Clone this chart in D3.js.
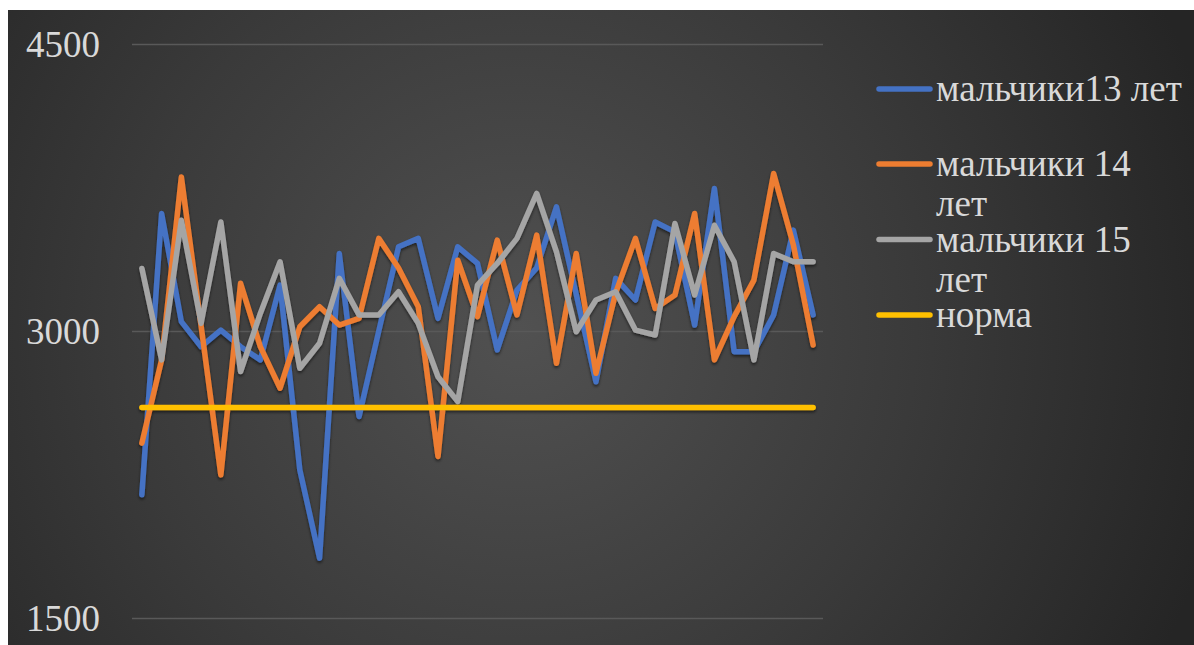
<!DOCTYPE html>
<html>
<head>
<meta charset="utf-8">
<script src="https://cdn.jsdelivr.net/npm/d3@7/dist/d3.min.js"></script>
<style>
  html, body { margin: 0; padding: 0; background: #ffffff; }
  svg { display: block; }
  .serif { font-family: "Liberation Serif", "Times New Roman", serif; }
</style>
</head>
<body>
<svg id="chart" width="1194" height="645"></svg>
<script>
// Measurement index (one point per pupil record)
const categories = d3.range(1, 36);

// Series values
const boys13 = [2144, 3614, 3049, 2918, 3005, 2918, 2849, 3240, 2274, 1813,
                3405, 2553, 3000, 3440, 3484, 3066, 3440, 3353, 2901, 3214,
                3330, 3649, 3192, 2735, 3275, 3162, 3570, 3518, 3031, 3745,
                2892, 2892, 3084, 3527, 3084];
const boys14 = [2414, 2849, 3805, 3027, 2248, 3249, 2918, 2701, 3022, 3127,
                3031, 3066, 3484, 3329, 3127, 2344, 3370, 3075, 3475, 3084,
                3501, 2831, 3405, 2779, 3200, 3484, 3118, 3188, 3614, 2849,
                3075, 3266, 3823, 3450, 2927];
const boys15 = [3327, 2849, 3579, 3040, 3570, 2788, 3092, 3362, 2805, 2936,
                3275, 3084, 3084, 3205, 3040, 2761, 2631, 3240, 3353, 3484,
                3719, 3414, 2996, 3162, 3205, 3005, 2979, 3562, 3188, 3553,
                3362, 2849, 3405, 3362, 3362];
const norm = categories.map(() => 2600);

// Axis ticks
const yTicks = [1500, 3000, 4500];

// Legend labels, already broken into lines
const seriesNames = [["мальчики13 лет"], ["мальчики 14", "лет"], ["мальчики 15", "лет"], ["норма"]];
const seriesColors = ["#4472c4", "#ed7d31", "#a5a5a5", "#ffc000"];
const seriesData = [boys13, boys14, boys15, norm];

const svg = d3.select("#chart");
const defs = svg.append("defs");

const grad = defs.append("radialGradient")
  .attr("id", "bg")
  .attr("gradientUnits", "userSpaceOnUse")
  .attr("cx", 520).attr("cy", 330).attr("r", 720);
grad.append("stop").attr("offset", "0%").attr("stop-color", "#515151");
grad.append("stop").attr("offset", "55%").attr("stop-color", "#3a3a3a");
grad.append("stop").attr("offset", "100%").attr("stop-color", "#252525");

const shadow = defs.append("filter").attr("id", "shadow")
  .attr("x", "-5%").attr("y", "-5%").attr("width", "110%").attr("height", "110%");
shadow.append("feDropShadow")
  .attr("dx", 0).attr("dy", 2).attr("stdDeviation", 1.6)
  .attr("flood-color", "#000").attr("flood-opacity", 0.55);

// Chart area panel
svg.append("rect")
  .attr("x", 8).attr("y", 10)
  .attr("width", 1186).attr("height", 635)
  .attr("fill", "url(#bg)");

const plotLeft = 132, plotRight = 823, plotTop = 44, plotBottom = 618;

const x = d3.scalePoint().domain(categories).range([plotLeft, plotRight]).padding(0.5);
const y = d3.scaleLinear().domain([1500, 4500]).range([plotBottom, plotTop]);

// Gridlines and tick labels
const yAxis = d3.axisLeft(y).tickValues(yTicks)
  .tickSize(-(plotRight - plotLeft)).tickPadding(32).tickFormat(d3.format("d"));
const gAxis = svg.append("g").attr("transform", `translate(${plotLeft},0)`).call(yAxis);
gAxis.attr("font-family", null).attr("font-size", null);
gAxis.select(".domain").remove();
gAxis.selectAll(".tick line").attr("stroke", "#595959").attr("stroke-width", 1.5);
gAxis.selectAll(".tick text")
  .attr("class", "serif")
  .attr("fill", "#d9d9d9")
  .style("font-size", "37px")
  .attr("dy", "0.34em");

// Series lines
const line = d3.line().x((d, i) => x(categories[i])).y(d => y(d));
const gLines = svg.append("g").attr("filter", "url(#shadow)");
seriesData.forEach((vals, k) => {
  gLines.append("path")
    .datum(vals)
    .attr("d", line)
    .attr("fill", "none")
    .attr("stroke", seriesColors[k])
    .attr("stroke-width", 5.5)
    .attr("stroke-linejoin", "round")
    .attr("stroke-linecap", "round");
});

// Legend
const legend = svg.append("g");
const legendY = [89, 164, 239.5, 315];
seriesNames.forEach((lines, k) => {
  const g = legend.append("g").attr("transform", `translate(0,${legendY[k]})`);
  g.append("line")
    .attr("x1", 879).attr("x2", 930).attr("y1", 0).attr("y2", 0)
    .attr("stroke", seriesColors[k]).attr("stroke-width", 5.5)
    .attr("stroke-linecap", "round");
  const t = g.append("text")
    .attr("class", "serif")
    .attr("x", 936).attr("y", 12)
    .attr("fill", "#d9d9d9")
    .style("font-size", "37px");
  lines.forEach((s, j) => {
    t.append("tspan").attr("x", 936).attr("dy", j === 0 ? 0 : 40).text(s);
  });
});
</script>
</body>
</html>
